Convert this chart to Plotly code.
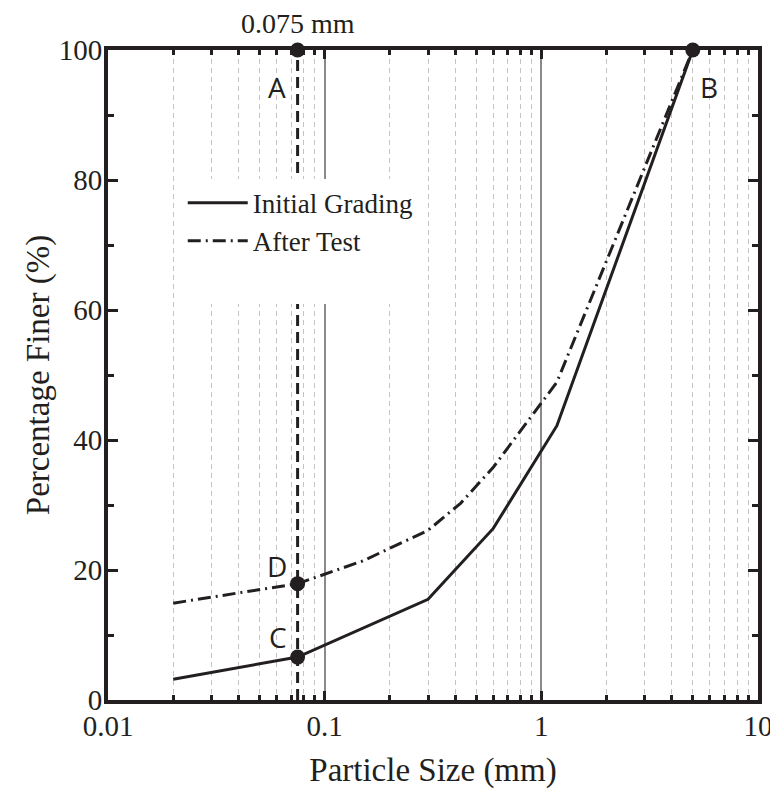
import math
import plotly.graph_objects as go

# ---- data ----
initial_size = [0.02, 0.075, 0.3, 0.6, 1.18, 5.0]
initial_finer = [3.2, 6.6, 15.5, 26.4, 42.2, 100.0]

after_size = [0.02, 0.075, 0.15, 0.3, 0.425, 0.6, 1.18, 5.0]
after_finer = [14.9, 17.9, 21.4, 26.1, 30.3, 35.8, 48.9, 100.0]

marker_labels = ["A", "B", "C", "D"]
marker_size = [0.075, 5.0, 0.075, 0.075]
marker_finer = [100.0, 100.0, 6.6, 17.9]

sieve_size = 0.075
sieve_label = "0.075 mm"

x_tickvals = [0.01, 0.1, 1, 10]
x_ticktext = ["0.01", "0.1", "1", "10"]
y_tickvals = [0, 20, 40, 60, 80, 100]

INK = "#231f20"
SERIF = "Liberation Serif"

fig = go.Figure()

# vertical dashed line at 0.075 mm
fig.add_trace(go.Scatter(
    x=[sieve_size, sieve_size], y=[0, 100], mode="lines",
    line=dict(color=INK, width=3, dash="11px,6px"),
    showlegend=False, hoverinfo="skip", cliponaxis=False))

fig.add_trace(go.Scatter(
    x=initial_size, y=initial_finer, mode="lines", name="Initial Grading",
    line=dict(color=INK, width=3)))

fig.add_trace(go.Scatter(
    x=after_size, y=after_finer, mode="lines", name="After Test",
    line=dict(color=INK, width=3, dash="13px,5px,2px,5px")))

# empty legend row: the reference legend box has extra white space below
fig.add_trace(go.Scatter(
    x=[None], y=[None], mode="lines", name=" ",
    line=dict(color="rgba(0,0,0,0)", width=0), hoverinfo="skip"))

fig.add_trace(go.Scatter(
    x=marker_size, y=marker_finer, mode="markers",
    marker=dict(color=INK, size=15), showlegend=False, cliponaxis=False))

# point labels (annotation x on a log axis is given in log10 units)
shifts = {"A": (-21, -37), "B": (16, -37), "C": (-20, 20), "D": (-21, 18)}
for lab, xs, ys in zip(marker_labels, marker_size, marker_finer):
    dx, dy = shifts[lab]
    fig.add_annotation(x=math.log10(xs), y=ys, xref="x", yref="y", text=lab,
                       showarrow=False, xshift=dx, yshift=dy,
                       font=dict(family="Open Sans", size=28, color=INK))

fig.add_annotation(x=math.log10(sieve_size), y=100, xref="x", yref="y", text=sieve_label,
                   showarrow=False, yshift=27,
                   font=dict(family=SERIF, size=28, color=INK))

fig.update_xaxes(
    type="log", range=[-2, 1], automargin=False,
    tickvals=x_tickvals, ticktext=x_ticktext,
    ticks="inside", ticklen=9, tickwidth=3, tickcolor=INK,
    showline=True, linewidth=4, linecolor=INK, mirror="allticks",
    showgrid=True, gridcolor="#8a8a8a", gridwidth=1.5,
    minor=dict(dtick="D1", ticks="inside", ticklen=5, tickwidth=3, tickcolor=INK,
               showgrid=True, gridcolor="#c4c4c4", gridwidth=1,
               griddash="5px,4px"),
    zeroline=False, ticklabelstandoff=-3,
    tickfont=dict(family=SERIF, size=29, color=INK),
    title=dict(text="Particle Size (mm)", font=dict(family=SERIF, size=33, color=INK),
               standoff=18),
)
fig.update_yaxes(
    range=[0, 100], tickvals=y_tickvals, automargin=False,
    ticks="inside", ticklen=10, tickwidth=3, tickcolor=INK,
    showline=True, linewidth=4, linecolor=INK, mirror="allticks",
    showgrid=False, zeroline=False, ticklabelstandoff=-4,
    minor=dict(dtick=10, ticks="inside", ticklen=6, tickwidth=3, tickcolor=INK, showgrid=False),
    tickfont=dict(family=SERIF, size=29, color=INK),
    title=dict(text="Percentage Finer (%)", font=dict(family=SERIF, size=33, color=INK),
               standoff=0),
)

fig.update_layout(
    width=770, height=786,
    margin=dict(l=100, r=20, t=42, b=94),
    paper_bgcolor="white", plot_bgcolor="white",
    legend=dict(x=0.115, y=0.802, xanchor="left", yanchor="top",
                bgcolor="white", borderwidth=0, itemwidth=60,
                font=dict(family=SERIF, size=27, color=INK)),
)

fig.write_html("out.html")
